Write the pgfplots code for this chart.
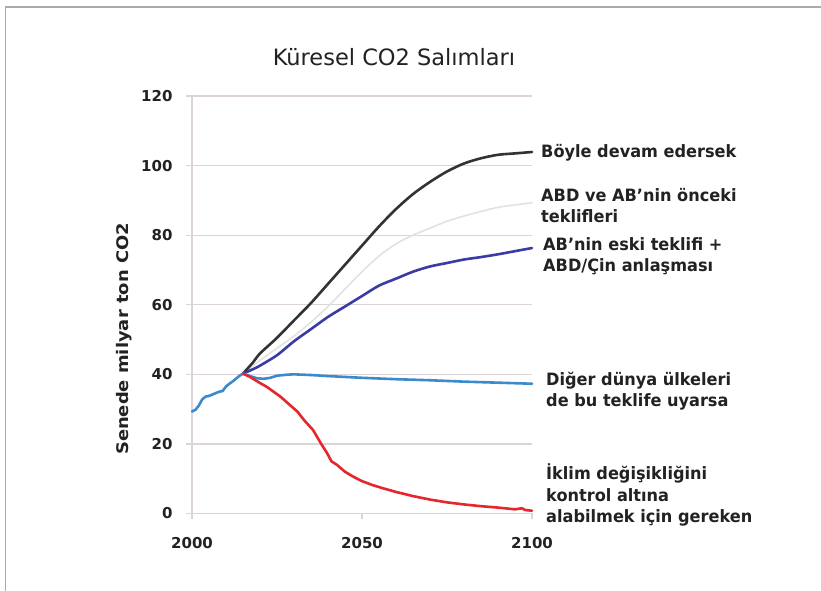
\documentclass[border=0pt]{standalone}
\usepackage{pgfplots}
\pgfplotsset{compat=1.18}
\usepackage{fontspec}
\setmainfont{DejaVu Sans}
\newfontfamily\lab{DejaVu Sans Bold}[FakeStretch=0.95]
\newfontfamily\ylab{DejaVu Sans Bold}[FakeStretch=1.12]
\definecolor{gridc}{HTML}{DDD5D5}
\definecolor{framec}{HTML}{AAAAAA}
\definecolor{txt}{HTML}{222222}
\definecolor{cblack}{HTML}{333333}
\definecolor{cgray}{HTML}{E2E2E2}
\definecolor{cnavy}{HTML}{3B3BA6}
\definecolor{clblue}{HTML}{3A8ACC}
\definecolor{cred}{HTML}{E5262C}
\begin{document}
\begin{tikzpicture}
\useasboundingbox (0,0) rectangle (821pt,591pt);
\fill[white] (0,0) rectangle (821pt,591pt);
\draw[framec, line width=1.5pt] (5.5pt,0) -- (5.5pt,584pt) -- (821pt,584pt);
\begin{axis}[
  at={(192pt,77.5pt)}, anchor=south west,
  scale only axis, width=340pt, height=417.5pt,
  xmin=2000, xmax=2100, ymin=0, ymax=120,
  xtick={2000,2050,2100}, ytick={0,20,...,120},
  axis x line*=bottom, axis y line*=left,
  axis line style={-, gridc, line width=1.2pt},
  ymajorgrids, grid style={gridc, line width=1.2pt},
  tick style={gridc, line width=1.2pt},
  tick align=outside, major tick length=6pt,
  ticklabel style={font=\fontsize{15}{18}\selectfont\bfseries, text=txt},
  yticklabel style={xshift=-10pt},
  xticklabel style={yshift=-14pt},
  /pgf/number format/1000 sep={},
  /pgf/number format/assume math mode=true,
  clip=false,
  every axis plot/.append style={no marks, line join=round, line cap=round},
]
\addplot[cgray, line width=1.6pt, smooth, tension=0.5] coordinates {
(2015,40.2) (2020,44) (2025,47.5) (2030,51) (2035,55) (2040,59.5) (2045,64.5)
(2050,69.5) (2055,74) (2060,77.5) (2065,80) (2070,82) (2075,84) (2080,85.5)
(2085,86.8) (2090,88) (2095,88.7) (2100,89.3)};
\addplot[cblack, line width=2.6pt, smooth, tension=0.5] coordinates {
(2015,40.2) (2018,43.5) (2020,46) (2025,50.5) (2030,55.5) (2035,60.5) (2040,66)
(2045,71.5) (2050,77) (2055,82.5) (2060,87.5) (2065,91.8) (2070,95.3) (2075,98.3)
(2080,100.6) (2085,102.1) (2090,103.1) (2095,103.5) (2100,103.9)};
\addplot[cnavy, line width=2.6pt, smooth, tension=0.5] coordinates {
(2015,40.2) (2018,41.5) (2020,42.5) (2025,45.5) (2030,49.5) (2035,53) (2040,56.5)
(2045,59.5) (2050,62.5) (2055,65.5) (2060,67.5) (2065,69.5) (2070,71) (2075,72)
(2080,73) (2085,73.7) (2090,74.5) (2095,75.4) (2100,76.3)};
\addplot[clblue, line width=2.6pt] coordinates {
(2000,29.3) (2001,29.8) (2002,31) (2003,32.8) (2004,33.6) (2005,33.8) (2006,34.2)
(2007,34.6) (2008,35.0) (2009,35.2) (2010,36.5) (2011,37.3) (2012,38) (2013,38.8)
(2014,39.6) (2015,40.2) (2017,39.5) (2019,38.9) (2021,38.7) (2023,39.0) (2025,39.6)
(2028,39.9) (2030,40.0) (2035,39.8) (2040,39.5) (2050,39.0) (2060,38.6) (2070,38.3)
(2080,37.9) (2090,37.6) (2100,37.3)};
\addplot[cred, line width=2.6pt] coordinates {
(2015,40.2) (2017,39.3) (2020,37.5) (2022,36.4) (2026,33.6) (2029,31) (2031,29.3)
(2033,26.8) (2035.6,24) (2038,20) (2039.7,17.4) (2041,15) (2042.6,14) (2045,12)
(2047.4,10.6) (2050,9.3) (2053,8.2) (2056,7.3) (2060,6.2) (2065,5) (2070,4)
(2075,3.2) (2080,2.6) (2085,2.1) (2090,1.7) (2095,1.2) (2097,1.5) (2098,1.0) (2100,0.8)};
\end{axis}
\begin{scope}[every node/.style={text=txt, align=left, anchor=west, inner sep=0pt,
   font=\fontsize{17}{21.5}\selectfont\lab}]
\node at (541pt,438pt) {Böyle devam edersek};
\node at (541pt,385.5pt) {ABD ve AB’nin önceki\\teklifleri};
\node at (543pt,335pt) {AB’nin eski teklifi +\\ABD/Çin anlaşması};
\node at (546pt,200pt) {Diğer dünya ülkeleri\\de bu teklife uyarsa};
\node at (546pt,96pt) {İklim değişikliğini\\kontrol altına\\alabilmek için gereken};
\end{scope}
\node[text=txt, font=\fontsize{22.5}{26}\selectfont] at (394pt,534pt) {Küresel CO2 Salımları};
\node[text=txt, rotate=90, font=\fontsize{16}{18}\selectfont\ylab] at (124pt,252pt) {Senede milyar ton CO2};
\end{tikzpicture}
\end{document}
